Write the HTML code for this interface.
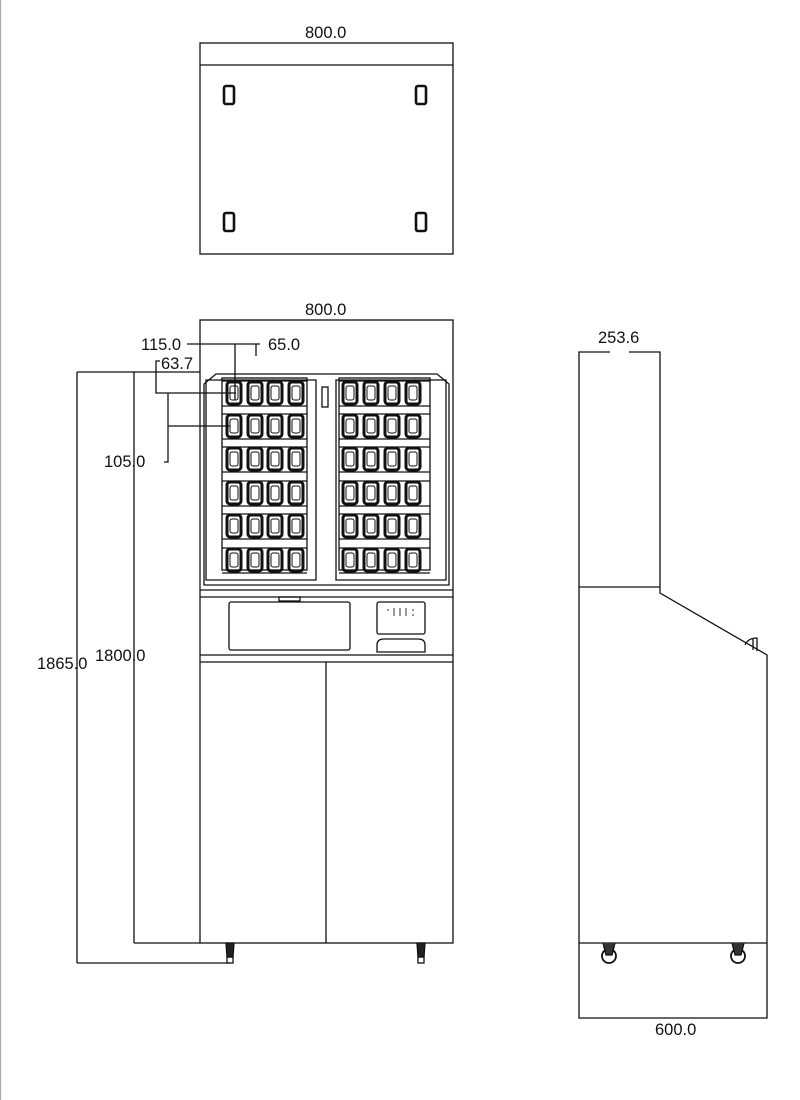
<!DOCTYPE html>
<html><head><meta charset="utf-8"><style>
html,body{margin:0;padding:0;background:#fff;width:800px;height:1100px;overflow:hidden}
svg{display:block}
text{font-family:"Liberation Sans",sans-serif;font-size:16.5px;fill:#111}
</style></head><body>
<svg id="s" width="800" height="1100" viewBox="0 0 800 1100" xmlns="http://www.w3.org/2000/svg" fill="none" stroke="#111" stroke-width="1.3">
<line x1="0.5" y1="0" x2="0.5" y2="1100" stroke="#aaa"/>
<!-- top view -->
<text x="305" y="38" stroke="none">800.0</text>
<rect x="200" y="43" width="253" height="211"/>
<line x1="200" y1="65" x2="453" y2="65"/>
<!-- front view -->
<text x="305" y="315" stroke="none">800.0</text>
<rect x="200" y="320" width="253" height="623"/>
<path d="M204 585 V384 L216 374 H437 L449 384 V585 Z"/>
<path d="M206 580 V380 H316 V580 Z"/>
<path d="M336 580 V380 H446 V580 Z"/>
<rect x="322" y="387" width="6" height="20"/>
<line x1="200" y1="590" x2="453" y2="590"/>
<line x1="200" y1="597" x2="453" y2="597"/>
<line x1="200" y1="655" x2="453" y2="655"/>
<line x1="200" y1="662" x2="453" y2="662"/>
<rect x="279" y="597" width="21" height="4"/>
<rect x="229" y="602" width="121" height="48" rx="2"/>
<rect x="377" y="602" width="48" height="32" rx="2"/>
<path d="M377 652 V645 Q377 639 384 639 H418 Q425 639 425 645 V652 Z"/>
<g stroke="#333" stroke-width="1"><line x1="388" y1="609" x2="388" y2="611"/><line x1="394" y1="608" x2="394" y2="616"/><line x1="400" y1="608" x2="400" y2="616"/><line x1="406" y1="608" x2="406" y2="616"/><line x1="413" y1="609" x2="413" y2="611"/><line x1="413" y1="614" x2="413" y2="616"/></g>
<line x1="326" y1="662" x2="326" y2="943"/>
<g id="slots"></g>
<!-- feet -->
<path d="M226 943 H234 L233 957 H227 Z" fill="#222"/><rect x="227" y="957" width="6" height="6"/>
<path d="M417 943 H425 L424 957 H418 Z" fill="#222"/><rect x="418" y="957" width="6" height="6"/>
<!-- dims front -->
<line x1="77" y1="372" x2="77" y2="963"/><line x1="77" y1="372" x2="200" y2="372"/><line x1="77" y1="963" x2="230" y2="963"/>
<line x1="134" y1="372" x2="134" y2="943"/><line x1="134" y1="943" x2="200" y2="943"/>
<text x="37" y="669" stroke="none">1865.0</text>
<text x="95" y="661" stroke="none">1800.0</text>
<text x="141" y="350" stroke="none">115.0</text>
<line x1="187" y1="344" x2="260" y2="344"/><line x1="256" y1="344" x2="256" y2="356"/>
<text x="268" y="350" stroke="none">65.0</text>
<line x1="235" y1="344" x2="235" y2="400"/>
<text x="161" y="369" stroke="none">63.7</text>
<path d="M160 361 H156 V393 H236"/>
<path d="M168 393 V462 H164"/><line x1="168" y1="426" x2="230" y2="426"/>
<text x="104" y="467" stroke="none">105.0</text>
<!-- side view -->
<text x="598" y="343" stroke="none">253.6</text>
<path d="M610 352 H579 V1018 H767 V655 L660 593 V352 H629"/>
<line x1="579" y1="587" x2="660" y2="587"/>
<line x1="579" y1="943" x2="767" y2="943"/>
<path d="M745 645 Q748 638 757 638 V651" /><line x1="753" y1="638" x2="753" y2="650"/>
<text x="655" y="1035" stroke="none">600.0</text>
<circle cx="609" cy="956" r="7" stroke-width="1.8"/><circle cx="738" cy="956" r="7" stroke-width="1.8"/>
<path d="M603 943 L606 955 H612 L615 943" fill="#333"/><path d="M732 943 L735 955 H741 L744 943" fill="#333"/>
<g id="feet"></g>
</svg>
<script>
var ns="http://www.w3.org/2000/svg",g=document.getElementById('slots');
function el(t,a){var e=document.createElementNS(ns,t);for(var k in a)e.setAttribute(k,a[k]);g.appendChild(e);}
var rows=[382,415,448,482,515,549];
[[222,307,[227,248,268,289]],[339,430,[343,364,385,406]]].forEach(function(p){
 el('rect',{x:p[0],y:378,width:p[1]-p[0],height:192});
 rows.forEach(function(y){
  el('line',{x1:p[0],y1:y-1,x2:p[1],y2:y-1});el('line',{x1:p[0],y1:y+24,x2:p[1],y2:y+24});
  p[2].forEach(function(x){el('rect',{x:x,y:y,width:14,height:22,rx:3,'stroke-width':3});el('rect',{x:x+3,y:y+4,width:8,height:14,rx:2,'stroke-width':1});});
 });
});
var f=document.getElementById('feet');
[[229,95],[421,95],[229,222],[421,222]].forEach(function(c){var r=document.createElementNS(ns,'rect');r.setAttribute('x',c[0]-5);r.setAttribute('y',c[1]-9);r.setAttribute('width',10);r.setAttribute('height',18);r.setAttribute('stroke-width',2.6);r.setAttribute('rx',2);f.appendChild(r);});
</script>
</body></html>
